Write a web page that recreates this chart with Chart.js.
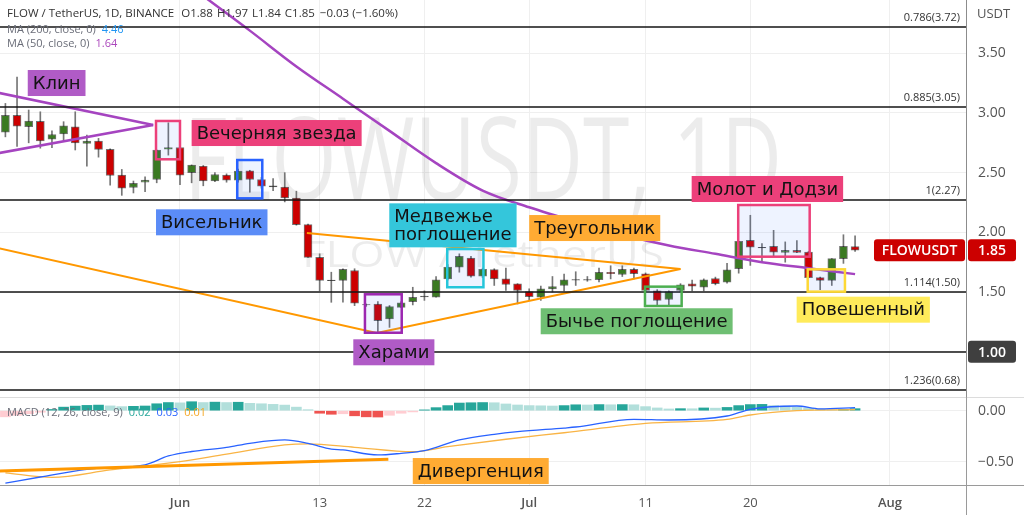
<!DOCTYPE html>
<html>
<head>
<meta charset="utf-8">
<title>FLOWUSDT 1D</title>
<script src="https://cdn.jsdelivr.net/npm/chart.js@4.4.1/dist/chart.umd.min.js"></script>
<style>
  html, body { margin: 0; padding: 0; background: #fff; overflow: hidden; }
  #wrap { position: relative; width: 1024px; height: 515px; }
  canvas { position: absolute; left: 0; }
  #priceChart { top: 0; }
  #macdChart { top: 397px; }
</style>
</head>
<body>
<div id="wrap">
  <canvas id="priceChart" width="1024" height="397" style="width:1024px;height:397px"></canvas>
  <canvas id="macdChart" width="1024" height="118" style="width:1024px;height:118px"></canvas>
</div>
<script>
// FLOW / TetherUS daily candles, 17 May .. 29 Jul (day 0 = 1 Jun)
const firstDay = -15;
const opens  = [2.84,2.98,2.885,2.93,2.78,2.824,2.885,2.745,2.765,2.695,2.479,2.376,2.42,2.443,2.697,2.711,2.50,2.555,2.43,2.479,
                2.437,2.515,2.443,2.39,2.38,2.288,2.065,1.79,1.60,1.597,1.68,1.395,1.40,1.275,1.372,1.42,1.465,1.456,1.61,1.708,
                1.784,1.633,1.687,1.61,1.569,1.504,1.456,1.527,1.555,1.605,1.605,1.603,1.666,1.647,1.69,1.653,1.51,1.437,1.513,1.569,
                1.54,1.613,1.582,1.695,1.933,1.87,1.882,1.832,1.849,1.834,1.62,1.597,1.78,1.88];
const highs  = [3.08,3.30,3.025,3.01,2.85,2.927,3.01,2.815,2.787,2.70,2.527,2.43,2.465,2.69,2.918,2.715,2.565,2.56,2.50,2.49,
                2.53,2.52,2.46,2.45,2.50,2.345,2.07,1.82,1.666,1.695,1.695,1.40,1.42,1.387,1.42,1.54,1.51,1.63,1.73,1.82,
                1.798,1.70,1.695,1.70,1.57,1.527,1.55,1.63,1.65,1.67,1.63,1.70,1.72,1.72,1.70,1.66,1.52,1.51,1.57,1.60,
                1.61,1.625,1.74,1.925,2.143,1.905,2.017,1.92,1.93,1.84,1.625,1.78,1.98,1.97];
const lows   = [2.80,2.72,2.75,2.705,2.71,2.765,2.69,2.555,2.63,2.395,2.31,2.33,2.34,2.415,2.647,2.40,2.415,2.39,2.425,2.42,
                2.42,2.336,2.37,2.35,2.255,2.06,1.79,1.51,1.414,1.414,1.386,1.38,1.162,1.204,1.372,1.392,1.43,1.456,1.60,1.666,
                1.624,1.62,1.555,1.513,1.40,1.43,1.43,1.50,1.51,1.555,1.59,1.585,1.61,1.63,1.61,1.50,1.39,1.387,1.50,1.51,
                1.51,1.56,1.574,1.658,1.723,1.75,1.80,1.75,1.83,1.62,1.52,1.555,1.74,1.84];
const closes = [2.98,2.89,2.933,2.765,2.82,2.893,2.75,2.765,2.695,2.476,2.37,2.41,2.437,2.689,2.711,2.479,2.563,2.43,2.485,2.437,
                2.513,2.443,2.387,2.38,2.288,2.065,1.79,1.597,1.595,1.69,1.406,1.392,1.26,1.378,1.41,1.456,1.46,1.602,1.708,1.798,
                1.633,1.69,1.61,1.563,1.513,1.462,1.527,1.546,1.602,1.60,1.60,1.666,1.653,1.69,1.653,1.513,1.43,1.504,1.56,1.55,
                1.602,1.569,1.686,1.924,1.876,1.875,1.834,1.849,1.832,1.62,1.597,1.78,1.882,1.85];

// MACD histogram, one bar per candle
const macdHist = [-0.06,-0.045,-0.03,-0.015,0.012,0.035,0.045,0.052,0.055,0.047,0.04,0.043,0.046,0.068,0.08,0.077,0.088,0.08,0.084,0.08,
                  0.083,0.072,0.068,0.062,0.055,0.035,0.01,-0.025,-0.035,-0.03,-0.05,-0.06,-0.062,-0.045,-0.025,-0.012,0.008,0.03,0.05,0.075,
                  0.078,0.08,0.078,0.066,0.056,0.05,0.048,0.046,0.05,0.058,0.056,0.06,0.058,0.06,0.058,0.04,0.027,0.017,0.02,0.019,
                  0.027,0.025,0.032,0.05,0.06,0.062,0.05,0.045,0.035,0.025,0.015,0.008,0.012,0.02];

// MACD and signal lines (day, value)
const macdDays   = [-15,-12,-8,-3,-1,1,4,6,9,11,13,14,17,19,21,24,27,29,33,34,39,42,47,49,53,55,58];
const macdValues = [-0.71,-0.65,-0.575,-0.53,-0.444,-0.40,-0.36,-0.32,-0.287,-0.32,-0.376,-0.385,-0.434,-0.418,-0.392,-0.287,-0.232,-0.206,-0.17,-0.16,-0.085,-0.091,-0.052,0.014,0.046,0.017,0.03];
const signalDays   = [-15,-11,-6,0,4,9,11,15,20,23,28,33,40,47,49,53,58];
const signalValues = [-0.61,-0.653,-0.581,-0.5,-0.425,-0.336,-0.326,-0.359,-0.402,-0.353,-0.28,-0.216,-0.124,-0.085,-0.042,0,0.01];

// MA 50 (day, value)
const maDays   = [2,6,10,14,18,22,26,30,34,38,42,46,50,54,58];
const maValues = [3.98,3.69,3.39,3.12,2.85,2.58,2.35,2.21,2.09,1.98,1.89,1.82,1.75,1.70,1.65];

// hand drawn trend lines (day, price)
const wedgeTopDays = [-15.5, -2.3];      const wedgeTopPrices = [3.167, 2.90];
const wedgeLowDays = [-15.5, -2.3];      const wedgeLowPrices = [2.665, 2.90];
const triLowDays = [-15.5, 16.9, 43.0];  const triLowPrices = [1.866, 1.157, 1.693];
const triTopDays = [10.9, 43.0];         const triTopPrices = [1.994, 1.693];
const divDays = [-15.5, 17.9];           const divValues = [-0.591, -0.476];

// fibonacci levels and the horizontal line
const fibPrices = [3.72, 3.05, 2.27, 1.50, 0.68];
const fibLabels = ['0.786(3.72)', '0.885(3.05)', '1(2.27)', '1.114(1.50)', '1.236(0.68)'];
const hLinePrice = 1.00;
const lastPrice = 1.85;

// axis ticks
const tickDays = [0, 12, 21, 30, 40, 49, 61];
const tickLabels = ['Jun', '13', '22', 'Jul', '11', '20', 'Aug'];
const priceTicks = [1.0, 1.5, 2.0, 2.5, 3.0, 3.5];
const macdTicks = [0, -0.5];

// pattern frames and notes (placement only)
const frames = [
  { d0: -2.06, d1: 0.0,  p0: 2.933, p1: 2.612, color: '#ec407a' },
  { d0: 4.92,  d1: 7.07, p0: 2.606, p1: 2.285, color: '#2962ff' },
  { d0: 22.96, d1: 26.07, p0: 1.86, p1: 1.54, color: '#26c6da' },
  { d0: 15.89, d1: 19.05, p0: 1.481, p1: 1.159, color: '#9c27b0' },
  { d0: 39.95, d1: 43.1, p0: 1.545, p1: 1.383, color: '#4caf50' },
  { d0: 47.96, d1: 54.1, p0: 2.229, p1: 1.796, color: '#ec407a' },
  { d0: 53.93, d1: 57.13, p0: 1.69, p1: 1.503, color: '#fdd835' }
];
const notes = [
  { text: 'Клин', day: -13.08, price: 3.36, bg: '#b05bc6' },
  { text: 'Вечерняя звезда', day: 1.0, price: 2.941, bg: '#ec407a' },
  { text: 'Висельник', day: -2.06, price: 2.193, bg: '#5b8cf7' },
  { text: 'Медвежье\nпоглощение', day: 17.98, price: 2.243, bg: '#34c6db' },
  { text: 'Треугольник', day: 30.0, price: 2.145, bg: '#ffab33' },
  { text: 'Харами', day: 14.89, price: 1.104, bg: '#b05bc6' },
  { text: 'Бычье поглощение', day: 30.99, price: 1.364, bg: '#6fbf73' },
  { text: 'Молот и Додзи', day: 43.96, price: 2.472, bg: '#ec407a' },
  { text: 'Повешенный', day: 52.98, price: 1.461, bg: '#ffeb5a' }
];
const macdNote = { text: 'Дивергенция', day: 20.0, value: -0.464, bg: '#ffab33' };

const X_MIN = -15.464, X_MAX = 67.53;
const AXIS_W = 58;
const FONT = "'Open Sans', sans-serif";
const LABEL_FONT = "18px 'DejaVu Sans', sans-serif";

const candleDays = opens.map((o, i) => firstDay + i);

function candleColor(i) {
  const diff = closes[i] - opens[i];
  if (Math.abs(diff) < 0.011) return '#2a2a2a';
  return diff > 0 ? '#3b7a22' : '#cc0000';
}

function histColor(i) {
  const v = macdHist[i];
  if (i == 0) return v >= 0 ? '#26a69a' : '#ffcdd2';
  const prev = macdHist[i - 1];
  if (v >= 0) return v >= prev ? '#26a69a' : '#b2dfdb';
  return v <= prev ? '#ef5350' : '#ffcdd2';
}

function pts(xs, ys) {
  return xs.map((x, i) => ({ x: x, y: ys[i] }));
}

// smooth = indicator line, otherwise a straight hand drawn segment
function lineSet(data, color, width, order, smooth) {
  return {
    type: 'line', data: data, borderColor: color, borderWidth: width,
    pointRadius: 0, fill: false, order: order,
    cubicInterpolationMode: smooth ? 'monotone' : 'default', tension: 0
  };
}

function xAxis(showLabels) {
  return {
    type: 'linear', min: X_MIN, max: X_MAX, offset: false,
    grid: { color: '#efefef', drawTicks: false, offset: false },
    border: { display: false },
    afterBuildTicks: (s) => { s.ticks = tickDays.map(v => ({ value: v })); },
    ticks: {
      display: showLabels, autoSkip: false, maxRotation: 0, padding: 10, color: '#555',
      font: (c) => ({ family: FONT, size: 13, weight: /[A-Za-z]/.test(tickLabels[c.index] || '') ? '600' : 'normal' }),
      callback: (v) => tickLabels[tickDays.indexOf(v)]
    },
    afterFit: (s) => { s.height = showLabels ? 30 : 0; s.paddingLeft = 0; s.paddingRight = 0; }
  };
}

function yAxis(min, max, ticks, fmt) {
  return {
    position: 'right', min: min, max: max,
    grid: { color: '#efefef', drawTicks: false },
    border: { display: false },
    afterBuildTicks: (s) => { s.ticks = ticks.map(v => ({ value: v })); },
    ticks: { padding: 12, color: '#555', font: { family: FONT, size: 14 }, callback: fmt },
    afterFit: (s) => { s.width = AXIS_W; s.paddingTop = 0; s.paddingBottom = 0; }
  };
}

// watermark squeezed to the width seen in the picture
function fitText(ctx, text, size, width, cx, baseline) {
  ctx.font = size + "px " + FONT;
  const sx = width / ctx.measureText(text).width;
  ctx.save();
  ctx.translate(cx, baseline);
  ctx.scale(sx, 1);
  ctx.fillText(text, 0, 0);
  ctx.restore();
}

function drawNote(ctx, x, y, text, bg) {
  ctx.font = LABEL_FONT;
  const lines = text.split('\n');
  const w = Math.max(...lines.map(l => ctx.measureText(l).width)) + 10;
  const h = 8 + lines.length * 18;
  ctx.fillStyle = bg;
  ctx.fillRect(x, y, w, h);
  ctx.fillStyle = '#131313';
  ctx.textAlign = 'left';
  ctx.textBaseline = 'middle';
  lines.forEach((l, k) => ctx.fillText(l, x + 5, y + 14 + k * 18));
}

function drawTag(ctx, x0, x1, yc, bg, text) {
  ctx.fillStyle = bg;
  ctx.beginPath();
  ctx.roundRect(x0, yc - 11, x1 - x0, 22, 3);
  ctx.fill();
  ctx.fillStyle = '#fff';
  ctx.font = "600 14px " + FONT;
  ctx.textAlign = 'center';
  ctx.textBaseline = 'middle';
  ctx.fillText(text, (x0 + x1) / 2, yc + 1);
}

// pieces of text one after another, each [text, colour, gap]
function textRun(ctx, parts, x, y) {
  parts.forEach(p => {
    ctx.fillStyle = p[1];
    ctx.fillText(p[0], x, y);
    x += ctx.measureText(p[0]).width + (p[2] || 0);
  });
  return x;
}

const priceDecor = {
  id: 'priceDecor',
  beforeDatasetsDraw(chart) {
    const ctx = chart.ctx, a = chart.chartArea;
    const cx = (a.left + a.right) / 2;
    ctx.save();
    ctx.fillStyle = 'rgba(0,0,0,0.075)';
    ctx.textAlign = 'center';
    ctx.textBaseline = 'alphabetic';
    fitText(ctx, 'FLOWUSDT, 1D', 116, 598, cx, 200);
    fitText(ctx, 'FLOW / TetherUS', 36, 362, cx, 267);
    ctx.restore();
  },
  afterDatasetsDraw(chart) {
    const ctx = chart.ctx, a = chart.chartArea;
    const xs = chart.scales.x, ys = chart.scales.y;
    ctx.save();

    // fibonacci levels
    ctx.strokeStyle = '#151515';
    ctx.lineWidth = 1.6;
    fibPrices.concat([hLinePrice]).forEach(p => {
      const y = Math.round(ys.getPixelForValue(p));
      ctx.beginPath();
      ctx.moveTo(a.left, y);
      ctx.lineTo(a.right, y);
      ctx.stroke();
    });
    ctx.font = "11px " + FONT;
    ctx.fillStyle = '#333';
    ctx.textAlign = 'right';
    ctx.textBaseline = 'alphabetic';
    fibPrices.forEach((p, i) => ctx.fillText(fibLabels[i], a.right - 6, ys.getPixelForValue(p) - 6));

    // pattern frames
    frames.forEach(f => {
      const x0 = xs.getPixelForValue(f.d0), x1 = xs.getPixelForValue(f.d1);
      const y0 = ys.getPixelForValue(f.p0), y1 = ys.getPixelForValue(f.p1);
      ctx.fillStyle = 'rgba(41,98,255,0.08)';
      ctx.fillRect(x0, y0, x1 - x0, y1 - y0);
      ctx.strokeStyle = f.color;
      ctx.lineWidth = 2.5;
      ctx.strokeRect(x0, y0, x1 - x0, y1 - y0);
    });

    // pattern notes
    notes.forEach(n => drawNote(ctx, xs.getPixelForValue(n.day), ys.getPixelForValue(n.price), n.text, n.bg));

    // header
    ctx.textAlign = 'left';
    ctx.textBaseline = 'alphabetic';
    ctx.font = "11.5px " + FONT;
    const x1 = textRun(ctx, [['FLOW / TetherUS, 1D, BINANCE', '#333', 7]], 7, 17);
    textRun(ctx, [['O1.88', '#333', 4], ['H1.97', '#333', 4], ['L1.84', '#333', 4], ['C1.85', '#333', 5], ['\u22120.03 (\u22121.60%)', '#333']], x1, 17);
    ctx.font = "11px " + FONT;
    textRun(ctx, [['MA (200, close, 0)', '#6a6d78', 6], ['4.46', '#2196f3']], 7, 33);
    textRun(ctx, [['MA (50, close, 0)', '#6a6d78', 6], ['1.64', '#ab47bc']], 7, 47);
    ctx.restore();
  },
  afterDraw(chart) {
    const ctx = chart.ctx, a = chart.chartArea, ys = chart.scales.y;
    ctx.save();
    ctx.strokeStyle = '#8c8c8c';
    ctx.lineWidth = 1;
    ctx.beginPath();
    ctx.moveTo(a.right + 0.5, 0);
    ctx.lineTo(a.right + 0.5, chart.height);
    ctx.stroke();

    ctx.font = "13px " + FONT;
    ctx.fillStyle = '#555';
    ctx.textAlign = 'left';
    ctx.textBaseline = 'alphabetic';
    ctx.fillText('USDT', a.right + 11, 18);

    const yLast = ys.getPixelForValue(lastPrice);
    drawTag(ctx, 874, a.right - 1, yLast, '#cc0000', 'FLOWUSDT');
    drawTag(ctx, a.right + 2, a.right + 50, yLast, '#cc0000', lastPrice.toFixed(2));
    drawTag(ctx, a.right + 2, a.right + 50, ys.getPixelForValue(hLinePrice), '#3f3f3f', hLinePrice.toFixed(2));
    ctx.restore();
  }
};

const macdDecor = {
  id: 'macdDecor',
  afterDatasetsDraw(chart) {
    const ctx = chart.ctx;
    const xs = chart.scales.x, ys = chart.scales.y;
    ctx.save();
    drawNote(ctx, xs.getPixelForValue(macdNote.day), ys.getPixelForValue(macdNote.value), macdNote.text, macdNote.bg);
    ctx.font = "11px " + FONT;
    ctx.textAlign = 'left';
    ctx.textBaseline = 'alphabetic';
    textRun(ctx, [['MACD (12, 26, close, 9)', '#6a6d78', 6], ['0.02', '#26a69a', 6], ['0.03', '#2962ff', 6], ['0.01', '#f5a623']], 7, 19);
    ctx.restore();
  },
  afterDraw(chart) {
    const ctx = chart.ctx, a = chart.chartArea;
    ctx.save();
    ctx.lineWidth = 1;
    ctx.strokeStyle = '#dcdcdc';
    ctx.beginPath();
    ctx.moveTo(0, 0.5);
    ctx.lineTo(chart.width, 0.5);
    ctx.stroke();
    ctx.strokeStyle = '#9a9a9a';
    ctx.beginPath();
    ctx.moveTo(0, a.bottom + 0.5);
    ctx.lineTo(chart.width, a.bottom + 0.5);
    ctx.moveTo(a.right + 0.5, 0);
    ctx.lineTo(a.right + 0.5, chart.height);
    ctx.stroke();
    ctx.restore();
  }
};

// price pane
new Chart(document.getElementById('priceChart'), {
  type: 'bar',
  data: {
    datasets: [
      {
        label: 'wicks', data: candleDays.map((d, i) => ({ x: d, y: [lows[i], highs[i]] })),
        backgroundColor: '#767676', borderWidth: 0, barThickness: 1, grouped: false, order: 5
      },
      {
        label: 'bodies', data: candleDays.map((d, i) => ({ x: d, y: [opens[i], closes[i]] })),
        backgroundColor: (c) => candleColor(c.dataIndex), borderColor: 'rgba(0,0,0,0.55)',
        borderWidth: 1, borderSkipped: false, barThickness: 8, grouped: false, order: 4
      },
      lineSet(pts(maDays, maValues), '#a544c0', 2.5, 3, true),
      lineSet(pts(wedgeTopDays, wedgeTopPrices), '#a544c0', 2.5, 2),
      lineSet(pts(wedgeLowDays, wedgeLowPrices), '#a544c0', 2.5, 2),
      lineSet(pts(triLowDays, triLowPrices), '#ff9800', 2, 1),
      lineSet(pts(triTopDays, triTopPrices), '#ff9800', 2, 1)
    ]
  },
  options: {
    responsive: false,
    animation: false,
    events: [],
    layout: { padding: 0 },
    plugins: { legend: { display: false }, tooltip: { enabled: false } },
    scales: {
      x: xAxis(false),
      y: yAxis(0.6205, 3.9466, priceTicks, (v) => v === 1 ? '' : v.toFixed(2))
    }
  },
  plugins: [priceDecor]
});

// MACD pane
new Chart(document.getElementById('macdChart'), {
  type: 'bar',
  data: {
    datasets: [
      {
        label: 'histogram', data: candleDays.map((d, i) => ({ x: d, y: macdHist[i] })),
        backgroundColor: candleDays.map((d, i) => histColor(i)), borderWidth: 0,
        barThickness: 10, grouped: false, order: 4
      },
      lineSet(pts(signalDays, signalValues), '#f9b445', 1.3, 3, true),
      lineSet(pts(macdDays, macdValues), '#2962ff', 1.3, 2, true),
      lineSet(pts(divDays, divValues), '#ff9800', 3, 1)
    ]
  },
  options: {
    responsive: false,
    animation: false,
    events: [],
    layout: { padding: 0 },
    plugins: { legend: { display: false }, tooltip: { enabled: false } },
    scales: {
      x: xAxis(true),
      y: yAxis(-0.7284, 0.1343, macdTicks, (v) => v === 0 ? '0.00' : '\u22120.50')
    }
  },
  plugins: [macdDecor]
});
</script>
</body>
</html>
